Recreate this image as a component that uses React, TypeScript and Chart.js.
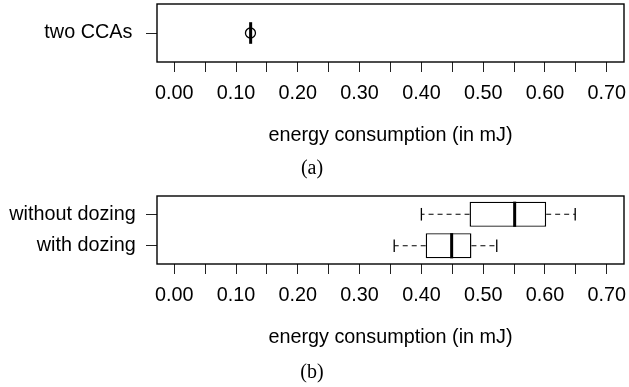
import React, { useEffect, useRef } from 'react';
import { Chart, registerables } from 'chart.js';

Chart.register(...registerables);

// ---------- data ----------
const xTickValues = [0, 0.05, 0.1, 0.15, 0.2, 0.25, 0.3, 0.35, 0.4, 0.45, 0.5, 0.55, 0.6, 0.65, 0.7];
const xMajorValues = [0, 0.1, 0.2, 0.3, 0.4, 0.5, 0.6, 0.7];
const xTickLabels = ['0.00', '0.10', '0.20', '0.30', '0.40', '0.50', '0.60', '0.70'];
const xAxisTitle = 'energy consumption (in mJ)';
const xMin = -0.028;
const xMax = 0.728;

// panel (a)
const categoriesA = ['two CCAs'];
const lowerWhiskerA = [0.1232];
const lowerQuartileA = [0.1234];
const medianA = [0.1236];
const upperQuartileA = [0.1238];
const upperWhiskerA = [0.124];
const outliersA = [[0.1233]];
const captionA = '(a)';

// panel (b)
const categoriesB = ['with dozing', 'without dozing'];
const lowerWhiskerB = [0.356, 0.4];
const lowerQuartileB = [0.407, 0.478];
const medianB = [0.449, 0.551];
const upperQuartileB = [0.481, 0.602];
const upperWhiskerB = [0.522, 0.649];
const outliersB: number[][] = [[], []];
const captionB = '(b)';

// ---------- styling ----------
const SANS = '"Liberation Sans", Arial, Helvetica, sans-serif';
const SERIF = '"Liberation Serif", "Times New Roman", Times, serif';
const AXIS_FONT = { family: SANS, size: 19.8, weight: 'normal' as const };
const CAPTION_FONT = { family: SERIF, size: 20, weight: 'normal' as const };

type Spec = {
  cats: string[];
  lo: number[];
  q1: number[];
  med: number[];
  q3: number[];
  hi: number[];
  out: number[][];
  caption: string;
  yMin: number;
  yMax: number;
  boxPct: number;
  medR: number;
  capR: number;
  padTop: number;
  capPad: { top: number; bottom: number };
  yLabelPad: number;
};

const framePlugin = {
  id: 'frame',
  afterDatasetsDraw(chart: any) {
    const { ctx, chartArea: a } = chart;
    ctx.save();
    ctx.strokeStyle = '#000';
    ctx.lineWidth = 1.4;
    ctx.strokeRect(a.left, a.top, a.right - a.left, a.bottom - a.top);
    ctx.restore();
  },
};

const zeroPadding = (scale: any) => {
  scale.paddingTop = 0;
  scale.paddingBottom = 0;
  scale.paddingLeft = 0;
  scale.paddingRight = 0;
};

function buildConfig(s: Spec): any {
  const pos = s.cats.map((_, i) => i + 1);
  const datasets: any[] = [];
  pos.forEach((y, i) => {
    datasets.push({
      type: 'scatter',
      data: [{ x: s.q1[i], y }, { x: s.lo[i], y }],
      showLine: true,
      borderColor: '#000',
      borderWidth: 1.2,
      borderDash: [5, 4],
      pointRadius: 0,
      order: 5,
    });
    datasets.push({
      type: 'scatter',
      data: [{ x: s.q3[i], y }, { x: s.hi[i], y }],
      showLine: true,
      borderColor: '#000',
      borderWidth: 1.2,
      borderDash: [5, 4],
      pointRadius: 0,
      order: 5,
    });
  });
  datasets.push({
    type: 'bar',
    indexAxis: 'y',
    data: pos.map((y, i) => ({ y, x: [s.q1[i], s.q3[i]] })),
    backgroundColor: '#fff',
    borderColor: '#000',
    borderWidth: 1.4,
    borderSkipped: false,
    barPercentage: s.boxPct,
    categoryPercentage: 1,
    order: 4,
  });
  datasets.push({
    type: 'scatter',
    data: pos.flatMap((y, i) => [{ x: s.lo[i], y }, { x: s.hi[i], y }]),
    showLine: false,
    pointStyle: 'line',
    pointRotation: 90,
    pointRadius: s.capR,
    pointBorderWidth: 1.3,
    pointBorderColor: '#000',
    order: 3,
  });
  datasets.push({
    type: 'scatter',
    data: pos.map((y, i) => ({ x: s.med[i], y })),
    showLine: false,
    pointStyle: 'line',
    pointRotation: 90,
    pointRadius: s.medR,
    pointBorderWidth: 3,
    pointBorderColor: '#000',
    order: 2,
  });
  datasets.push({
    type: 'scatter',
    data: pos.flatMap((y, i) => s.out[i].map((v) => ({ x: v, y }))),
    showLine: false,
    pointStyle: 'circle',
    pointRadius: 5,
    pointBorderWidth: 1.3,
    pointBorderColor: '#000',
    pointBackgroundColor: 'rgba(0,0,0,0)',
    order: 1,
  });

  return {
    type: 'scatter',
    data: { datasets },
    plugins: [framePlugin],
    options: {
      responsive: false,
      maintainAspectRatio: false,
      animation: false,
      events: [],
      layout: { autoPadding: false, padding: { top: s.padTop, right: 5, left: 0, bottom: 0 } },
      plugins: {
        legend: { display: false },
        tooltip: { enabled: false },
        title: {
          display: true,
          text: s.caption,
          position: 'bottom',
          align: 'center',
          color: '#000',
          font: CAPTION_FONT,
          padding: s.capPad,
        },
      },
      scales: {
        x: {
          type: 'linear',
          position: 'bottom',
          min: xMin,
          max: xMax,
          offset: false,
          afterBuildTicks: (scale: any) => {
            scale.ticks = xTickValues.map((v) => ({ value: v }));
          },
          afterFit: (scale: any) => {
            scale.height = 85;
            zeroPadding(scale);
          },
          ticks: {
            autoSkip: false,
            maxRotation: 0,
            minRotation: 0,
            padding: 10,
            color: '#000',
            font: AXIS_FONT,
            callback: (v: number) => {
              const idx = xMajorValues.findIndex((m) => Math.abs(m - v) < 1e-9);
              return idx >= 0 ? xTickLabels[idx] : '';
            },
          },
          grid: {
            offset: false,
            drawOnChartArea: false,
            drawTicks: true,
            tickLength: 10,
            color: '#222',
            lineWidth: 1,
          },
          border: { display: false },
          title: {
            display: true,
            text: xAxisTitle,
            color: '#000',
            font: AXIS_FONT,
            padding: { top: 0, bottom: 0 },
          },
        },
        y: {
          type: 'linear',
          position: 'left',
          min: s.yMin,
          max: s.yMax,
          offset: false,
          beginAtZero: false,
          afterBuildTicks: (scale: any) => {
            scale.ticks = pos.map((v) => ({ value: v }));
          },
          afterFit: (scale: any) => {
            scale.width = 157;
            zeroPadding(scale);
          },
          ticks: {
            autoSkip: false,
            padding: s.yLabelPad,
            color: '#000',
            font: AXIS_FONT,
            callback: (v: number) => s.cats[Math.round(v) - 1] ?? '',
          },
          grid: {
            offset: false,
            drawOnChartArea: false,
            drawTicks: true,
            tickLength: 11,
            color: '#222',
            lineWidth: 1,
          },
          border: { display: false },
        },
      },
    },
  };
}

const specA: Spec = {
  cats: categoriesA,
  lo: lowerWhiskerA,
  q1: lowerQuartileA,
  med: medianA,
  q3: upperQuartileA,
  hi: upperWhiskerA,
  out: outliersA,
  caption: captionA,
  yMin: 0.46,
  yMax: 1.54,
  boxPct: 0.372,
  medR: 10.8,
  capR: 5,
  padTop: 4,
  capPad: { top: 10, bottom: 9 },
  yLabelPad: 13.7,
};

const specB: Spec = {
  cats: categoriesB,
  lo: lowerWhiskerB,
  q1: lowerQuartileB,
  med: medianB,
  q3: upperQuartileB,
  hi: upperWhiskerB,
  out: outliersB,
  caption: captionB,
  yMin: 0.42,
  yMax: 2.58,
  boxPct: 0.8,
  medR: 12.6,
  capR: 6.3,
  padTop: 6,
  capPad: { top: 12, bottom: 2 },
  yLabelPad: 10.3,
};

function Panel({ spec, top, height }: { spec: Spec; top: number; height: number }) {
  const ref = useRef<HTMLCanvasElement>(null);
  useEffect(() => {
    if (!ref.current) return;
    const chart = new Chart(ref.current, buildConfig(spec));
    return () => chart.destroy();
  }, [spec]);
  return (
    <canvas
      ref={ref}
      width={629}
      height={height}
      style={{ position: 'absolute', left: 0, top, width: 629, height }}
    />
  );
}

export default function App() {
  return (
    <div style={{ position: 'absolute', left: 0, top: 0, width: 629, height: 387, background: '#fff' }}>
      <Panel spec={specA} top={0} height={190} />
      <Panel spec={specB} top={190} height={197} />
    </div>
  );
}
